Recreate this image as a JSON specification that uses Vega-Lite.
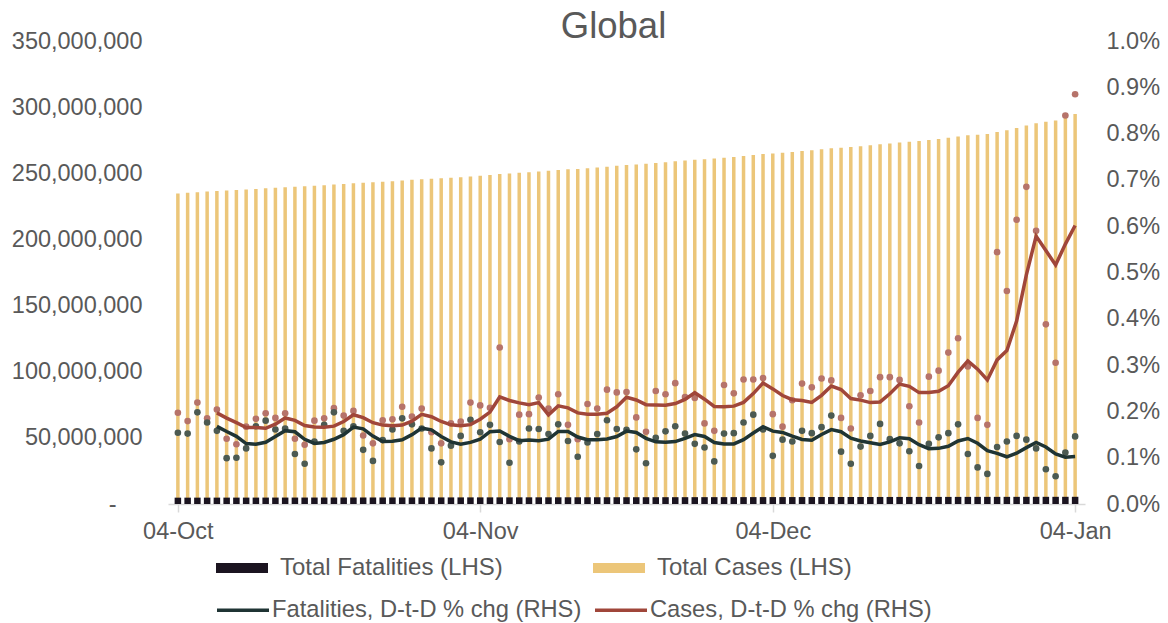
{
"$schema": "https://vega.github.io/schema/vega-lite/v6.json",
"width": 917,
"height": 463,
"autosize": {"type": "none"},
"padding": {"left": 168, "top": 41, "right": 83, "bottom": 119},
"background": "white",
"title": {"text": "Global", "fontSize": 36.5, "font": "Liberation Sans", "fontWeight": "normal", "color": "#595959", "anchor": "middle", "frame": "group", "dx": -13, "dy": 47, "baseline": "alphabetic", "offset": 2},
"config": {
  "view": {"stroke": null},
  "font": "Liberation Sans",
  "axis": {"labelFont": "Liberation Sans", "labelFontSize": 23.5, "labelColor": "#595959", "grid": false, "title": null}
},
"data": {"values": [
{"d":"2021-10-04","tc":234800000,"tf":4790000,"cp":0.197,"fp":0.154},
{"d":"2021-10-05","tc":235220000,"tf":4797000,"cp":0.179,"fp":0.152},
{"d":"2021-10-06","tc":235740000,"tf":4807000,"cp":0.219,"fp":0.198},
{"d":"2021-10-07","tc":236170000,"tf":4815000,"cp":0.185,"fp":0.176},
{"d":"2021-10-08","tc":236660000,"tf":4823000,"cp":0.204,"fp":0.158},
{"d":"2021-10-09","tc":236990000,"tf":4828000,"cp":0.141,"fp":0.099},
{"d":"2021-10-10","tc":237300000,"tf":4832000,"cp":0.129,"fp":0.100},
{"d":"2021-10-11","tc":237690000,"tf":4838000,"cp":0.167,"fp":0.120},
{"d":"2021-10-12","tc":238130000,"tf":4846000,"cp":0.184,"fp":0.168},
{"d":"2021-10-13","tc":238600000,"tf":4855000,"cp":0.196,"fp":0.180},
{"d":"2021-10-14","tc":239040000,"tf":4863000,"cp":0.186,"fp":0.161},
{"d":"2021-10-15","tc":239510000,"tf":4871000,"cp":0.196,"fp":0.163},
{"d":"2021-10-16","tc":239850000,"tf":4876000,"cp":0.141,"fp":0.108},
{"d":"2021-10-17","tc":240150000,"tf":4880000,"cp":0.128,"fp":0.087},
{"d":"2021-10-18","tc":240590000,"tf":4887000,"cp":0.180,"fp":0.135},
{"d":"2021-10-19","tc":241030000,"tf":4895000,"cp":0.185,"fp":0.171},
{"d":"2021-10-20","tc":241530000,"tf":4905000,"cp":0.207,"fp":0.198},
{"d":"2021-10-21","tc":241990000,"tf":4913000,"cp":0.191,"fp":0.158},
{"d":"2021-10-22","tc":242480000,"tf":4921000,"cp":0.201,"fp":0.168},
{"d":"2021-10-23","tc":242840000,"tf":4927000,"cp":0.148,"fp":0.117},
{"d":"2021-10-24","tc":243160000,"tf":4931000,"cp":0.131,"fp":0.093},
{"d":"2021-10-25","tc":243600000,"tf":4938000,"cp":0.181,"fp":0.138},
{"d":"2021-10-26","tc":244040000,"tf":4946000,"cp":0.183,"fp":0.161},
{"d":"2021-10-27","tc":244560000,"tf":4955000,"cp":0.210,"fp":0.185},
{"d":"2021-10-28","tc":245020000,"tf":4964000,"cp":0.189,"fp":0.172},
{"d":"2021-10-29","tc":245520000,"tf":4972000,"cp":0.206,"fp":0.163},
{"d":"2021-10-30","tc":245900000,"tf":4978000,"cp":0.155,"fp":0.120},
{"d":"2021-10-31","tc":246230000,"tf":4983000,"cp":0.131,"fp":0.090},
{"d":"2021-11-01","tc":246650000,"tf":4989000,"cp":0.174,"fp":0.126},
{"d":"2021-11-02","tc":247090000,"tf":4996000,"cp":0.178,"fp":0.147},
{"d":"2021-11-03","tc":247640000,"tf":5005000,"cp":0.219,"fp":0.182},
{"d":"2021-11-04","tc":248160000,"tf":5013000,"cp":0.213,"fp":0.155},
{"d":"2021-11-05","tc":248680000,"tf":5022000,"cp":0.208,"fp":0.171},
{"d":"2021-11-06","tc":249520000,"tf":5028000,"cp":0.338,"fp":0.134},
{"d":"2021-11-07","tc":249870000,"tf":5033000,"cp":0.140,"fp":0.089},
{"d":"2021-11-08","tc":250350000,"tf":5040000,"cp":0.193,"fp":0.135},
{"d":"2021-11-09","tc":250840000,"tf":5048000,"cp":0.194,"fp":0.163},
{"d":"2021-11-10","tc":251410000,"tf":5056000,"cp":0.230,"fp":0.162},
{"d":"2021-11-11","tc":251930000,"tf":5063000,"cp":0.206,"fp":0.151},
{"d":"2021-11-12","tc":252530000,"tf":5072000,"cp":0.237,"fp":0.172},
{"d":"2021-11-13","tc":252960000,"tf":5079000,"cp":0.171,"fp":0.136},
{"d":"2021-11-14","tc":253310000,"tf":5084000,"cp":0.140,"fp":0.102},
{"d":"2021-11-15","tc":253860000,"tf":5091000,"cp":0.216,"fp":0.133},
{"d":"2021-11-16","tc":254380000,"tf":5099000,"cp":0.206,"fp":0.151},
{"d":"2021-11-17","tc":255010000,"tf":5108000,"cp":0.247,"fp":0.181},
{"d":"2021-11-18","tc":255630000,"tf":5116000,"cp":0.241,"fp":0.162},
{"d":"2021-11-19","tc":256240000,"tf":5125000,"cp":0.242,"fp":0.160},
{"d":"2021-11-20","tc":256720000,"tf":5131000,"cp":0.187,"fp":0.118},
{"d":"2021-11-21","tc":257120000,"tf":5135000,"cp":0.156,"fp":0.088},
{"d":"2021-11-22","tc":257750000,"tf":5142000,"cp":0.244,"fp":0.143},
{"d":"2021-11-23","tc":258360000,"tf":5150000,"cp":0.237,"fp":0.157},
{"d":"2021-11-24","tc":259030000,"tf":5159000,"cp":0.261,"fp":0.168},
{"d":"2021-11-25","tc":259630000,"tf":5167000,"cp":0.231,"fp":0.152},
{"d":"2021-11-26","tc":260230000,"tf":5174000,"cp":0.229,"fp":0.130},
{"d":"2021-11-27","tc":260680000,"tf":5180000,"cp":0.174,"fp":0.122},
{"d":"2021-11-28","tc":261090000,"tf":5185000,"cp":0.158,"fp":0.092},
{"d":"2021-11-29","tc":261760000,"tf":5192000,"cp":0.257,"fp":0.152},
{"d":"2021-11-30","tc":262390000,"tf":5200000,"cp":0.239,"fp":0.153},
{"d":"2021-12-01","tc":263090000,"tf":5209000,"cp":0.269,"fp":0.176},
{"d":"2021-12-02","tc":263800000,"tf":5219000,"cp":0.269,"fp":0.193},
{"d":"2021-12-03","tc":264520000,"tf":5228000,"cp":0.272,"fp":0.161},
{"d":"2021-12-04","tc":265030000,"tf":5233000,"cp":0.194,"fp":0.104},
{"d":"2021-12-05","tc":265480000,"tf":5241000,"cp":0.167,"fp":0.139},
{"d":"2021-12-06","tc":266070000,"tf":5248000,"cp":0.224,"fp":0.135},
{"d":"2021-12-07","tc":266760000,"tf":5256000,"cp":0.260,"fp":0.158},
{"d":"2021-12-08","tc":267440000,"tf":5264000,"cp":0.252,"fp":0.153},
{"d":"2021-12-09","tc":268160000,"tf":5273000,"cp":0.271,"fp":0.166},
{"d":"2021-12-10","tc":268880000,"tf":5283000,"cp":0.267,"fp":0.191},
{"d":"2021-12-11","tc":269380000,"tf":5289000,"cp":0.186,"fp":0.113},
{"d":"2021-12-12","tc":269820000,"tf":5294000,"cp":0.163,"fp":0.087},
{"d":"2021-12-13","tc":270450000,"tf":5300000,"cp":0.235,"fp":0.124},
{"d":"2021-12-14","tc":271110000,"tf":5308000,"cp":0.244,"fp":0.147},
{"d":"2021-12-15","tc":271860000,"tf":5317000,"cp":0.274,"fp":0.173},
{"d":"2021-12-16","tc":272600000,"tf":5325000,"cp":0.274,"fp":0.140},
{"d":"2021-12-17","tc":273330000,"tf":5332000,"cp":0.268,"fp":0.131},
{"d":"2021-12-18","tc":273910000,"tf":5338000,"cp":0.211,"fp":0.114},
{"d":"2021-12-19","tc":274390000,"tf":5342000,"cp":0.176,"fp":0.082},
{"d":"2021-12-20","tc":275150000,"tf":5349000,"cp":0.275,"fp":0.130},
{"d":"2021-12-21","tc":275940000,"tf":5357000,"cp":0.288,"fp":0.144},
{"d":"2021-12-22","tc":276840000,"tf":5365000,"cp":0.327,"fp":0.153},
{"d":"2021-12-23","tc":277830000,"tf":5374000,"cp":0.358,"fp":0.172},
{"d":"2021-12-24","tc":278660000,"tf":5380000,"cp":0.297,"fp":0.108},
{"d":"2021-12-25","tc":279180000,"tf":5384000,"cp":0.186,"fp":0.079},
{"d":"2021-12-26","tc":279650000,"tf":5388000,"cp":0.171,"fp":0.065},
{"d":"2021-12-27","tc":281180000,"tf":5395000,"cp":0.544,"fp":0.123},
{"d":"2021-12-28","tc":282470000,"tf":5402000,"cp":0.460,"fp":0.135},
{"d":"2021-12-29","tc":284200000,"tf":5410000,"cp":0.614,"fp":0.147},
{"d":"2021-12-30","tc":286150000,"tf":5418000,"cp":0.685,"fp":0.139},
{"d":"2021-12-31","tc":287840000,"tf":5424000,"cp":0.590,"fp":0.120},
{"d":"2022-01-01","tc":288950000,"tf":5428000,"cp":0.388,"fp":0.075},
{"d":"2022-01-02","tc":289840000,"tf":5432000,"cp":0.305,"fp":0.060},
{"d":"2022-01-03","tc":292270000,"tf":5438000,"cp":0.839,"fp":0.111},
{"d":"2022-01-04","tc":294850000,"tf":5445000,"cp":0.885,"fp":0.146}
]},
"encoding": {
  "x": {"field": "d", "type": "temporal",
    "scale": {"type": "utc", "domain": [{"year": 2021, "month": 10, "date": 3, "hours": 12, "utc": true}, {"year": 2022, "month": 1, "date": 4, "hours": 12, "utc": true}]},
    "axis": {"values": [{"year": 2021, "month": 10, "date": 4, "utc": true}, {"year": 2021, "month": 11, "date": 4, "utc": true}, {"year": 2021, "month": 12, "date": 4, "utc": true}, {"year": 2022, "month": 1, "date": 4, "utc": true}],
      "labelExpr": "utcFormat(datum.value, '%d-%b')", "tickSize": 8, "tickColor": "#D9D9D9", "domainColor": "#D9D9D9", "domainWidth": 1.5, "tickWidth": 1.5, "labelPadding": 7, "labelFlush": false, "labelOverlap": false, "title": null}}
},
"layer": [
  {"layer": [
    {"mark": {"type": "bar", "width": 3.5},
     "encoding": {
       "y": {"field": "tc", "type": "quantitative", "scale": {"domain": [0, 350000000], "nice": false},
         "axis": {"values": [0, 50000000, 100000000, 150000000, 200000000, 250000000, 300000000, 350000000], "labelExpr": "datum.value == 0 ? '-' : format(datum.value, ',')", "domain": false, "ticks": false, "tickSize": 0, "labelPadding": {"condition": {"test": "datum.value == 0", "value": 52}, "value": 26}, "title": null}},
       "fill": {"datum": "Total Cases (LHS)", "type": "nominal",
         "scale": {"domain": ["Total Fatalities (LHS)", "Total Cases (LHS)"], "range": ["#1B1420", "#ECC679"]},
         "legend": {"orient": "none", "legendX": 48, "legendY": 501, "direction": "horizontal", "title": null, "symbolType": "M-1,-0.19H1V0.19H-1Z", "symbolSize": 2704, "symbolStrokeWidth": 0, "symbolOpacity": 1, "labelOffset": 12, "columnPadding": 90, "labelFontSize": 24, "labelFont": "Liberation Sans", "labelColor": "#595959", "labelLimit": 600, "padding": 0}}
     }},
    {"mark": {"type": "bar", "width": 6.5},
     "encoding": {
       "y": {"field": "tf", "type": "quantitative"},
       "fill": {"datum": "Total Fatalities (LHS)", "type": "nominal"}
     }}
  ]},
  {"layer": [
    {"mark": {"type": "circle", "size": 44, "color": "#B6736A", "opacity": 1},
     "encoding": {
       "y": {"field": "cp", "type": "quantitative", "scale": {"domain": [0, 1], "nice": false},
         "axis": {"orient": "right", "values": [0, 0.1, 0.2, 0.3, 0.4, 0.5, 0.6, 0.7, 0.8, 0.9, 1.0], "labelExpr": "format(datum.value, '.1f') + '%'", "domain": false, "ticks": false, "tickSize": 0, "labelPadding": 21, "title": null}}
     }},
    {"mark": {"type": "circle", "size": 44, "color": "#4C5A52", "opacity": 1},
     "encoding": {"y": {"field": "fp", "type": "quantitative"}}},
    {"transform": [
       {"window": [{"op": "mean", "field": "fp", "as": "fma"}, {"op": "row_number", "as": "rn"}], "frame": [-4, 0], "sort": [{"field": "d"}]},
       {"filter": "datum.rn >= 5"}],
     "mark": {"type": "line", "strokeWidth": 3.5},
     "encoding": {
       "y": {"field": "fma", "type": "quantitative"},
       "stroke": {"datum": "Fatalities, D-t-D % chg (RHS)", "type": "nominal",
         "scale": {"domain": ["Fatalities, D-t-D % chg (RHS)", "Cases, D-t-D % chg (RHS)"], "range": ["#1F3434", "#A0463A"]},
         "legend": {"orient": "none", "legendX": 47, "legendY": 541, "direction": "horizontal", "title": null, "symbolType": "stroke", "symbolSize": 2704, "symbolStrokeWidth": 3.5, "labelOffset": 1, "columnPadding": 6, "labelFontSize": 23.7, "labelFont": "Liberation Sans", "labelColor": "#595959", "labelLimit": 600, "padding": 0}}
     }},
    {"transform": [
       {"window": [{"op": "mean", "field": "cp", "as": "cma"}, {"op": "row_number", "as": "rn"}], "frame": [-4, 0], "sort": [{"field": "d"}]},
       {"filter": "datum.rn >= 5"}],
     "mark": {"type": "line", "strokeWidth": 3.5},
     "encoding": {
       "y": {"field": "cma", "type": "quantitative"},
       "stroke": {"datum": "Cases, D-t-D % chg (RHS)", "type": "nominal"}
     }}
  ]}
],
"resolve": {"scale": {"y": "independent"}}
}
